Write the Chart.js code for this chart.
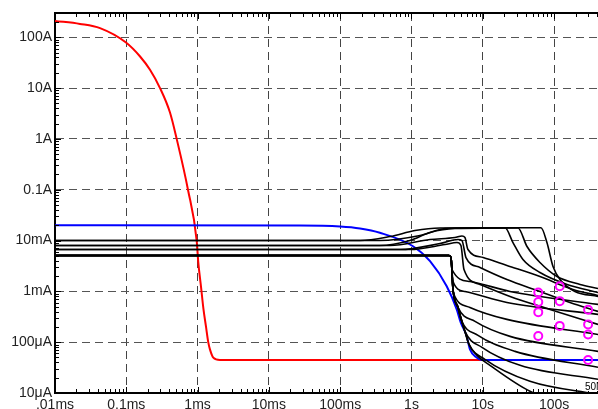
<!DOCTYPE html>
<html>
<head>
<meta charset="utf-8">
<script src="https://cdn.jsdelivr.net/npm/chart.js@4.4.1/dist/chart.umd.min.js"></script>
<style>
  html, body { margin: 0; padding: 0; background: #fff; overflow: hidden; }
  canvas { display: block; }
</style>
</head>
<body>
<canvas id="leakChart" width="598" height="409"></canvas>
<script>
// time in seconds, current in amps
const xMin = 1e-5, xMax = 413;
const yMin = 1e-5, yMax = 300;

const xTickValues = [1e-5, 1e-4, 1e-3, 1e-2, 1e-1, 1, 10, 100];
const xTickLabels = ['.01ms', '0.1ms', '1ms', '10ms', '100ms', '1s', '10s', '100s'];
const yTickValues = [1e-5, 1e-4, 1e-3, 1e-2, 1e-1, 1, 10, 100];
const yTickLabels = ['10\u03bcA', '100\u03bcA', '1mA', '10mA', '0.1A', '1A', '10A', '100A'];

// surge decay
const redCurve = [[1e-5, 210], [2.24e-5, 183], [4.28e-5, 151], [9.9e-5, 78.7], [1.56e-4, 41.8],
  [2.15e-4, 22.9], [2.97e-4, 10], [4.10e-4, 3.3], [5.09e-4, 1.0], [7.33e-4, 0.1],
  [9.71e-4, 0.01], [1.02e-3, 0.00387], [1.12e-3, 0.00119], [1.21e-3, 0.000441],
  [1.31e-3, 0.000204], [1.41e-3, 0.0001], [1.49e-3, 0.0000722], [1.66e-3, 0.0000497],
  [2.06e-3, 0.0000445], [413, 0.0000445]];

const blueCurve = [[1e-5, 0.0200], [0.0273, 0.0197], [0.1, 0.0188], [0.19, 0.0172], [0.36, 0.0142],
  [1.05, 0.00773], [1.82, 0.00392], [3.12, 0.00126], [4.31, 0.000441], [4.90, 0.000245],
  [5.94, 0.000132], [6.61, 0.000072], [8.2, 0.00005], [9.66, 0.0000445], [413, 0.0000445]];

// cells that climb to the plateau
const curveP1 = [[1e-5, 0.0100], [0.19, 0.0100], [0.5, 0.0120], [1.12, 0.0157], [2.51, 0.0176],
  [20.5, 0.0178], [26.5, 0.00913], [36.6, 0.00423], [63.4, 0.00235], [152, 0.00137], [413, 0.00095]];
const curveP2 = [[1e-5, 0.00798], [0.36, 0.00798], [0.95, 0.0100], [1.82, 0.01436], [4.07, 0.0172],
  [31.2, 0.0177], [41.7, 0.00762], [63.4, 0.0037], [110, 0.00196], [231, 0.00137], [413, 0.00114]];
const curveP3 = [[1e-5, 0.0100], [0.36, 0.0100], [1.32, 0.01254], [2.95, 0.0172], [6.61, 0.0178],
  [65.5, 0.0178], [79.4, 0.00913], [96.6, 0.00308], [121, 0.00171], [196, 0.000995], [413, 0.000794]];

// cells with a short peak near 5 s
const curveK1 = [[1e-5, 0.00798], [0.5, 0.00798], [1.82, 0.01046], [4.07, 0.01146], [5.11, 0.01226],
  [5.62, 0.01146], [6.19, 0.00665], [10.1, 0.00463], [21.8, 0.00323], [63.4, 0.00196],
  [184, 0.00109], [413, 0.00083]];
const curveK2 = [[1e-5, 0.00665], [0.69, 0.00665], [2.51, 0.00873], [4.49, 0.01046], [5.11, 0.0100],
  [5.81, 0.00463], [9.14, 0.00295], [21.8, 0.00171], [63.4, 0.000995], [167, 0.000605], [413, 0.000403]];
const curveK3 = [[1e-5, 0.00665], [0.95, 0.00665], [2.95, 0.00835], [4.35, 0.00913], [4.94, 0.00798],
  [5.45, 0.00269], [9.14, 0.00137], [24.1, 0.000794], [87.7, 0.000441], [413, 0.000224]];

// cells that collapse at ~3.5 s
const curveB0 = [[1e-5, 0.00507], [3.36, 0.00507], [3.58, 0.00463], [3.70, 0.00269], [6.61, 0.00156],
  [24.1, 0.000995], [413, 0.000553]];
const curveB1 = [[1e-5, 0.00507], [3.36, 0.00507], [3.58, 0.00463], [3.82, 0.00156], [5.62, 0.000995],
  [21.8, 0.000605], [413, 0.000352]];
const curveB2 = [[1e-5, 0.00507], [3.36, 0.00507], [3.58, 0.00463], [3.82, 0.00109], [3.94, 0.000869],
  [6.61, 0.000483], [21.8, 0.000281], [413, 0.000142]];
const curveB3 = [[1e-5, 0.00507], [3.36, 0.00507], [3.58, 0.00463], [3.82, 0.00109], [4.49, 0.000483],
  [7.78, 0.000256], [24.1, 0.00013], [413, 0.0000659]];
const curveB4 = [[1e-5, 0.00507], [3.36, 0.00507], [3.58, 0.00463], [3.82, 0.00109], [4.49, 0.000483],
  [4.94, 0.000281], [8.57, 0.000136], [28.3, 0.0000659], [413, 0.000032]];
const curveB5 = [[1e-5, 0.00507], [3.36, 0.00507], [3.58, 0.00463], [3.82, 0.00109], [4.49, 0.000483],
  [5.62, 0.000163], [9.75, 0.0000791], [33.3, 0.000035], [413, 0.0000186]];
const curveB6 = [[1e-5, 0.00507], [3.36, 0.00507], [3.58, 0.00463], [3.82, 0.00109], [4.49, 0.000483],
  [5.62, 0.000163], [6.41, 0.0000905], [10.7, 0.0000459], [45.9, 0.000017], [413, 0.0000094]];
const curveB7 = [[1e-5, 0.00507], [3.36, 0.00507], [3.58, 0.00463], [3.82, 0.00109], [4.49, 0.000483],
  [5.62, 0.000163], [6.41, 0.0000905], [8.29, 0.000055], [12.6, 0.000035], [45.9, 0.0000108],
  [167, 0.000006]];

const blackCurves = [curveP1, curveP2, curveP3, curveK1, curveK2, curveK3,
  curveB0, curveB1, curveB2, curveB3, curveB4, curveB5, curveB6, curveB7];

// measured leakage at 60 s, 120 s, 300 s
const markerPoints = [[60, 9.5e-4], [60, 6.14e-4], [60, 3.9e-4], [60, 1.32e-4],
  [120, 1.26e-3], [120, 6.42e-4], [120, 2.09e-4],
  [300, 4.35e-4], [300, 2.24e-4], [300, 1.42e-4], [300, 4.45e-5]];

const noteText = '50M';

const toXY = pts => pts.map(([t, a]) => ({ x: t, y: a }));

// 1..9 per decade, decades flagged as major
function logMarks(lo, hi) {
  const marks = [];
  for (let e = Math.floor(Math.log10(lo)); e <= Math.ceil(Math.log10(hi)); e++) {
    for (let k = 1; k <= 9; k++) {
      const v = k * Math.pow(10, e);
      if (v >= lo * 0.999 && v <= hi * 1.001) marks.push({ v: v, major: k === 1 });
    }
  }
  return marks;
}

// tick marks pointing into the plot
const innerTicks = {
  id: 'innerTicks',
  afterDraw(chart) {
    const c = chart.ctx, a = chart.chartArea;
    const sx = chart.scales.x, sy = chart.scales.y;
    c.save();
    c.strokeStyle = '#000';
    c.lineWidth = 1;
    c.beginPath();
    logMarks(xMin, xMax).forEach(m => {
      const px = Math.round(sx.getPixelForValue(m.v)) + 0.5;
      const len = m.major ? 6 : 4;
      c.moveTo(px, a.bottom); c.lineTo(px, a.bottom - len);
      c.moveTo(px, a.top); c.lineTo(px, a.top + len);
    });
    logMarks(yMin, yMax).forEach(m => {
      const py = Math.round(sy.getPixelForValue(m.v)) + 0.5;
      const len = m.major ? 6 : 4;
      c.moveTo(a.left, py); c.lineTo(a.left + len, py);
    });
    c.stroke();
    c.restore();
  }
};

const cornerNote = {
  id: 'cornerNote',
  afterDraw(chart) {
    const c = chart.ctx;
    c.save();
    c.font = '10px "Liberation Sans", Arial, sans-serif';
    const w = c.measureText(noteText).width;
    c.fillStyle = '#fff';
    c.fillRect(584, 381, w + 2, 10);
    c.fillStyle = '#000';
    c.fillText(noteText, 585, 390);
    c.restore();
  }
};

// keep the plot box fixed: no label overhang padding
const noPad = s => { s.paddingLeft = 0; s.paddingRight = 0; s.paddingTop = 0; s.paddingBottom = 0; };

Chart.defaults.font.family = '"Liberation Sans", Arial, sans-serif';
Chart.defaults.font.size = 14;
Chart.defaults.color = '#222';

const blackSets = blackCurves.map(c => ({
  data: toXY(c),
  borderColor: '#000',
  borderWidth: 1.6,
  pointRadius: 0,
  cubicInterpolationMode: 'monotone',
  order: 1
}));

new Chart(document.getElementById('leakChart'), {
  type: 'line',
  data: {
    datasets: [
      {
        type: 'scatter',
        data: toXY(markerPoints),
        showLine: false,
        pointStyle: 'circle',
        pointRadius: 4,
        borderWidth: 2,
        pointBorderWidth: 2,
        borderColor: '#ff00ff',
        backgroundColor: 'rgba(0,0,0,0)',
        order: 0
      },
      ...blackSets,
      {
        data: toXY(blueCurve),
        borderColor: '#0000ff',
        borderWidth: 2,
        pointRadius: 0,
        cubicInterpolationMode: 'monotone',
        order: 2
      },
      {
        data: toXY(redCurve),
        borderColor: '#ff0000',
        borderWidth: 2,
        pointRadius: 0,
        cubicInterpolationMode: 'monotone',
        order: 3
      }
    ]
  },
  options: {
    responsive: false,
    animation: false,
    layout: { padding: 0, autoPadding: false },
    plugins: { legend: { display: false }, tooltip: { enabled: false } },
    scales: {
      x: {
        type: 'logarithmic',
        position: 'bottom',
        min: xMin,
        max: xMax,
        afterBuildTicks: s => { s.ticks = xTickValues.map(v => ({ value: v })); },
        afterFit: s => { s.height = 16; noPad(s); },
        ticks: { autoSkip: false, maxRotation: 0, padding: 4, callback: (v, i) => xTickLabels[i] },
        grid: { color: '#444', lineWidth: 1, drawTicks: false },
        border: { color: '#000', width: 2, dash: [8, 5] }
      },
      xTop: {
        type: 'logarithmic',
        position: 'top',
        min: xMin,
        max: xMax,
        display: true,
        afterFit: s => { s.height = 13; noPad(s); },
        ticks: { display: false },
        grid: { display: false, drawTicks: false },
        border: { color: '#000', width: 2 }
      },
      y: {
        type: 'logarithmic',
        position: 'left',
        min: yMin,
        max: yMax,
        afterBuildTicks: s => { s.ticks = yTickValues.map(v => ({ value: v })); },
        afterFit: s => { s.width = 55; noPad(s); },
        ticks: { autoSkip: false, padding: 3, callback: (v, i) => yTickLabels[i] },
        grid: { color: '#555', lineWidth: 1, drawTicks: false },
        border: { color: '#000', width: 2, dash: [8, 5] }
      }
    }
  },
  plugins: [innerTicks, cornerNote]
});
</script>
</body>
</html>
